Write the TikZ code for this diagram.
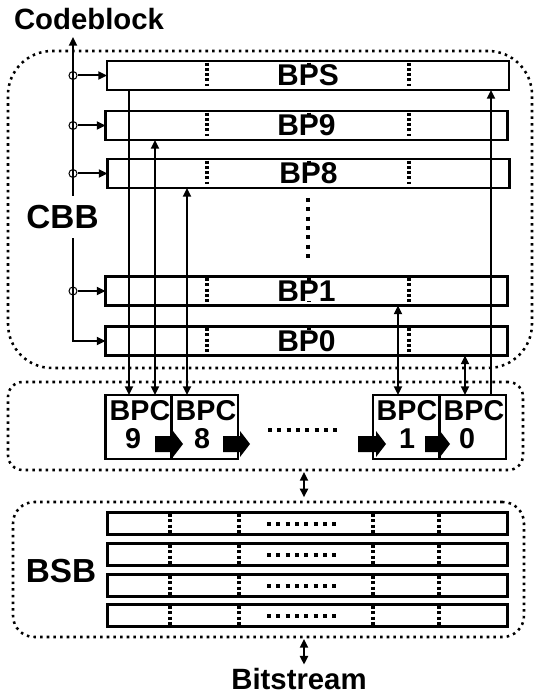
\documentclass[tikz,border=0pt]{standalone}
\usepackage{fontspec}
\setmainfont{Liberation Sans}
\usetikzlibrary{arrows.meta}
\begin{document}
\begin{tikzpicture}[x=0.75pt,y=-0.75pt,
  tip/.tip={Triangle[length=6.5pt,width=6pt]},
  region/.style={draw,line width=1.9pt,dash pattern=on 1.9pt off 3.1pt,inner sep=0,outer sep=0},
  bpbox/.style={draw,line width=2.1pt,minimum width=301.5pt,minimum height=21.75pt,inner sep=0,outer sep=0},
  bpcbox/.style={draw,line width=2.1pt,minimum width=49.5pt,minimum height=48pt,inner sep=0,outer sep=0},
  bsbbox/.style={draw,line width=2.1pt,minimum width=300pt,minimum height=16.5pt,inner sep=0,outer sep=0},
  divider/.style={line width=2.3pt,dash pattern=on 2.2pt off 1.7pt,shorten <=1.3pt,shorten >=1.3pt},
  bigdots/.style={line width=3pt,dash pattern=on 3pt off 4pt},
  conn/.style={line width=1.5pt},
  junc/.style={circle,draw,line width=0.75pt,minimum size=6pt,inner sep=0},
  lbl/.style={fill=white,inner sep=0,font=\bfseries\fontsize{22.5pt}{24pt}\selectfont},
  bpclbl/.style={inner sep=0,font=\bfseries\fontsize{21.5pt}{24pt}\selectfont},
  big/.style={inner sep=0,font=\bfseries\fontsize{25pt}{28pt}\selectfont},
  title/.style={inner sep=0,font=\bfseries\fontsize{22pt}{24pt}\selectfont}]

\useasboundingbox (0,0) rectangle (535,695);

% regions
\node[region,rounded corners=33pt,minimum width=393pt,minimum height=237.75pt] (cbb) at (270,209.5) {};
\node[region,rounded corners=11pt,minimum width=386.25pt,minimum height=66pt] (bpcr) at (265.5,426) {};
\node[region,rounded corners=16pt,minimum width=383.25pt,minimum height=101.25pt] (bsbr) at (268.5,569.5) {};

% column coordinates
\coordinate (xa) at (129,0);
\coordinate (xb) at (155,0);
\coordinate (xc) at (187,0);
\coordinate (xd) at (398,0);
\coordinate (xe) at (465,0);
\coordinate (xf) at (491,0);
\coordinate (xg) at (304,0);
\coordinate (d1) at (207,0);
\coordinate (d2) at (309,0);
\coordinate (d3) at (409,0);
\coordinate (e1) at (170,0);
\coordinate (e2) at (239,0);
\coordinate (e3) at (373,0);
\coordinate (e4) at (439,0);

% bit-plane boxes
\node[bpbox] (bps) at (308,75.5) {};
\node[bpbox] (bp9) at (306.5,125.5) {};
\node[bpbox] (bp8) at (308.5,173.5) {};
\node[bpbox] (bp1) at (306.5,291) {};
\node[bpbox] (bp0) at (306.5,341) {};

\foreach \b in {bps,bp9,bp8,bp1,bp0}{
  \foreach \d in {d1,d2,d3}{
    \draw[divider] (\b.north -| \d) -- (\b.south -| \d);
  }
}
\node[lbl] at (bps) {BPS};
\node[lbl] at (bp9) {BP9};
\node[lbl] at (bp8) {BP8};
\node[lbl] at (bp1) {BP1};
\node[lbl] at (bp0) {BP0};

\draw[bigdots] (308,198) -- (308,260);

% codeblock input line
\node[title] (cb) at (89,19) {Codeblock};
\coordinate (cbtop) at (73,37);
\draw[conn,tip-tip] (cbtop) |- (bp0.west);
\foreach \b/\j in {bps/j1,bp9/j2,bp8/j3,bp1/j4}{
  \node[junc] (\j) at (\b.west -| cbtop) {};
  \draw[conn,-tip] (\j.east) -- (\b.west);
}
\node[big,fill=white,inner xsep=1pt,inner ysep=7pt] (cbblbl) at (62.5,217) {CBB};

% BPC boxes
\node[bpcbox] (bpc9) at (138.5,427) {};
\node[bpcbox] (bpc8) at (205,427) {};
\node[bpcbox] (bpc1) at (406,427) {};
\node[bpcbox] (bpc0) at (473,427) {};
\node[bpclbl] at (140,411) {BPC};
\node[bpclbl] at (133,439) {9};
\node[bpclbl] at (206,411) {BPC};
\node[bpclbl] at (202,439) {8};
\node[bpclbl] at (407,411) {BPC};
\node[bpclbl] at (407,439) {1};
\node[bpclbl] at (474,411) {BPC};
\node[bpclbl] at (467,439) {0};

\foreach \s/\h/\t in {155/173/183,223/240/250,358/376/386,425/440/450}{
  \fill (\s,436) -- (\h,436) -- (\h,431) -- (\t,444) -- (\h,457) -- (\h,452) -- (\s,452) -- cycle;
}
\draw[bigdots] (268,430) -- (337.5,430);

% connections CBB <-> BPC
\draw[conn,-tip] (bps.south -| xa) -- (bpc9.north -| xa);
\draw[conn,tip-tip] (bp9.south -| xb) -- (bpc9.north -| xb);
\draw[conn,tip-tip] (bp8.south -| xc) -- (bpc8.north -| xc);
\draw[conn,tip-tip] (bp1.south -| xd) -- (bpc1.north -| xd);
\draw[conn,tip-tip] (bp0.south -| xe) -- (bpc0.north -| xe);
\draw[conn,-tip] (bpc0.north -| xf) -- (bps.south -| xf);

% BSB rows
\node[bsbbox] (r1) at (307.5,523.5) {};
\node[bsbbox] (r2) at (307.5,554.5) {};
\node[bsbbox] (r3) at (307.5,585.5) {};
\node[bsbbox] (r4) at (307.5,615.5) {};
\foreach \r in {r1,r2,r3,r4}{
  \foreach \d in {e1,e2,e3,e4}{
    \draw[divider] (\r.north -| \d) -- (\r.south -| \d);
  }
  \draw[bigdots] (\r.center -| 267,0) -- (\r.center -| 337.5,0);
}
\node[big] (bsblbl) at (61,571) {BSB};

% BPC <-> BSB <-> Bitstream
\node[title] (bs) at (299,679) {Bitstream};
\draw[conn,tip-tip,shorten <=1.5pt,shorten >=3.5pt] (bpcr.south -| xg) -- (bsbr.north -| xg);
\draw[conn,tip-tip,shorten <=1.5pt,shorten >=2.5pt] (bsbr.south -| xg) -- (bs.north -| xg);
\end{tikzpicture}
\end{document}
